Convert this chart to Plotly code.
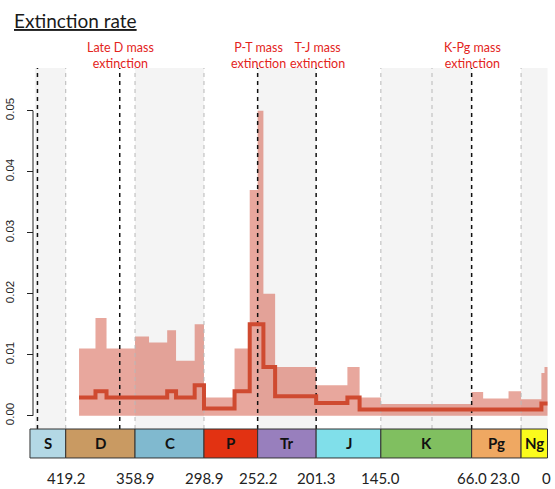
import plotly.graph_objects as go

# ---------------- data ----------------
step_edges = [407.6, 393.3, 383.7, 358.9, 346.7, 330.9, 323.2, 307.0, 298.9, 272.3,
              259.1, 252.2, 247.2, 237.0, 201.3, 174.1, 163.5, 145.0, 66.0, 56.0,
              33.9, 23.0, 5.3, 2.6, 0.0]
upper_ci = [0.011, 0.016, 0.011, 0.013, 0.012, 0.014, 0.009, 0.015, 0.003, 0.011,
            0.037, 0.050, 0.020, 0.008, 0.005, 0.008, 0.003, 0.0019, 0.0039, 0.0028,
            0.004, 0.0027, 0.007, 0.008]
median_rate = [0.003, 0.004, 0.003, 0.003, 0.003, 0.004, 0.003, 0.005, 0.0012, 0.004,
               0.015, 0.015, 0.008, 0.0032, 0.0021, 0.003, 0.001, 0.001, 0.001, 0.001,
               0.001, 0.001, 0.002, 0.002]

periods = ["S", "D", "C", "P", "Tr", "J", "K", "Pg", "Ng"]
period_start = [450.3, 419.2, 358.9, 298.9, 252.2, 201.3, 145.0, 66.0, 23.0]
period_end = [419.2, 358.9, 298.9, 252.2, 201.3, 145.0, 66.0, 23.0, 0.0]
period_colors = ["#b3d8e5", "#c99a62", "#80b9cf", "#e23212", "#987fbd",
                 "#80dfea", "#80bf60", "#efa862", "#fbfb1c"]
period_shaded = [True, False, True, False, True, False, True, False, True]
shade_start = 446.0

tick_ages = [419.2, 358.9, 298.9, 252.2, 201.3, 145.0, 66.0, 23.0, 0.0]
tick_text = ["419.2", "358.9", "298.9", "252.2", "201.3", "145.0", "66.0", "23.0", "0"]

ext_ages = [443.8, 372.2, 252.2, 201.3, 66.0]
ext_labels = ["", "Late D mass<br>extinction", "P-T mass<br>extinction",
              "T-J mass<br>extinction", "K-Pg mass<br>extinction"]
minor_ages = [419.2, 358.9, 298.9, 145.0, 100.5, 23.0]

y_ticks = [0.00, 0.01, 0.02, 0.03, 0.04, 0.05]

# ---------------- layout geometry ----------------
W, H = 555, 489
ML, MR, MT, MB = 26, 4, 68, 29
X_RANGE = [453.76, -3.045]
Y_RANGE = [-0.007262, 0.0570]
BAR_TOP = -0.00218
BAR_BOT = -0.00693
PW = W - ML - MR
PH = H - MT - MB

def px_to_paper_y(py):
    return (H - MB - py) / PH

fig = go.Figure()

# band (CI)
fig.add_trace(go.Scatter(
    x=step_edges, y=upper_ci + [upper_ci[-1]], mode="lines",
    line=dict(shape="hv", width=0, color="rgba(210,80,60,0.5)"),
    fill="tozeroy", fillcolor="rgba(210,80,60,0.5)", hoverinfo="skip", showlegend=False))

# dashed lines
def vlines(ages):
    xs, ys = [], []
    for a in ages:
        xs += [a, a, None]
        ys += [BAR_TOP, Y_RANGE[1], None]
    return xs, ys

gx, gy = vlines(minor_ages)
fig.add_trace(go.Scatter(x=gx, y=gy, mode="lines",
                         line=dict(color="#b8b8b8", width=1, dash="4px,4px"),
                         hoverinfo="skip", showlegend=False))
bx, by = vlines(ext_ages)
fig.add_trace(go.Scatter(x=bx, y=by, mode="lines",
                         line=dict(color="#111111", width=1.5, dash="4px,4px"),
                         hoverinfo="skip", showlegend=False))

# median line
fig.add_trace(go.Scatter(
    x=step_edges, y=median_rate + [median_rate[-1]], mode="lines",
    line=dict(shape="hv", width=4, color="#cf4a30"), hoverinfo="skip", showlegend=False))

shapes = []
annotations = []
for name, s, e, c, sh in zip(periods, period_start, period_end, period_colors, period_shaded):
    if sh:
        shapes.append(dict(type="rect", xref="x", yref="y", x0=min(s, shade_start), x1=e,
                           y0=BAR_TOP, y1=Y_RANGE[1], fillcolor="#f4f4f4",
                           line=dict(width=0), layer="below"))
    shapes.append(dict(type="rect", xref="x", yref="y", x0=s, x1=e, y0=BAR_BOT, y1=BAR_TOP,
                       fillcolor=c, line=dict(color="#333333", width=1), layer="above"))
    annotations.append(dict(x=(s + e) / 2, y=(BAR_TOP + BAR_BOT) / 2, xref="x", yref="y",
                            text="<b>" + name + "</b>", showarrow=False, yanchor="middle",
                            font=dict(family="Lato", size=15, color="#111111")))

# y axis line (0 to 0.05 only)
y_axis_pos = (33 - ML) / PW
shapes.append(dict(type="line", xref="paper", yref="y", x0=y_axis_pos, x1=y_axis_pos,
                   y0=y_ticks[0], y1=y_ticks[-1], line=dict(color="#222222", width=1)))

# x tick labels
for a, t in zip(tick_ages, tick_text):
    xs = 0
    if t == "23.0":
        xs = -16
    elif t == "0":
        xs = -1
    annotations.append(dict(x=a, y=px_to_paper_y(478), xref="x", yref="paper", text=t,
                            showarrow=False, xshift=xs, yanchor="middle",
                            font=dict(family="Lato", size=15, color="#222222")))

# extinction labels
for a, t in zip(ext_ages, ext_labels):
    if t:
        annotations.append(dict(x=a, y=px_to_paper_y(55.5), xref="x", yref="paper", text=t,
                                showarrow=False, yanchor="middle", xshift=1,
                                font=dict(family="Lato", size=12.5, color="#e3241c")))

# title
annotations.append(dict(x=(12 - ML) / PW, y=px_to_paper_y(20), xref="paper", yref="paper",
                        text="<u>Extinction rate</u>", showarrow=False, xanchor="left",
                        yanchor="middle", font=dict(family="Lato", size=19, color="#1a1a1a")))

fig.update_layout(
    width=W, height=H, margin=dict(l=ML, r=MR, t=MT, b=MB, autoexpand=False),
    paper_bgcolor="white", plot_bgcolor="white",
    shapes=shapes, annotations=annotations, showlegend=False,
    xaxis=dict(range=X_RANGE, showgrid=False, zeroline=False, showticklabels=False,
               showline=False, ticks="", automargin=False),
    yaxis=dict(range=Y_RANGE, showgrid=False, zeroline=False, showline=False,
               anchor="free", position=y_axis_pos, tickvals=y_ticks, automargin=False,
               ticktext=["%.2f" % v for v in y_ticks], ticks="outside", ticklen=6,
               tickcolor="#222222", tickangle=-90, ticklabelstandoff=8,
               tickfont=dict(family="Liberation Sans", size=11.5, color="#222222")),
)

fig.write_html("out.html", config={"displayModeBar": False},
               post_script="document.body.style.margin='0';document.body.style.padding='0';")
